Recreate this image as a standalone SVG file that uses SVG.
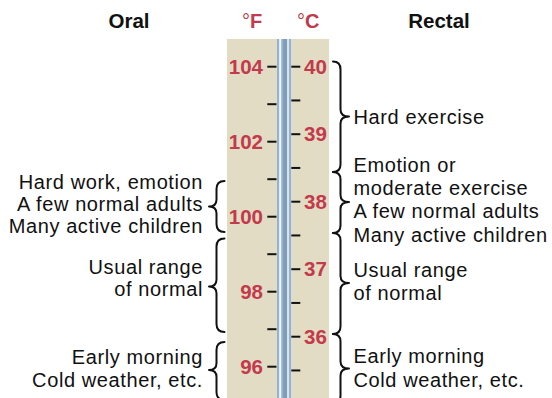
<svg xmlns="http://www.w3.org/2000/svg" width="552" height="398" viewBox="0 0 552 398">
  <style>
    .t { font-family: "Liberation Sans", Arial, sans-serif; font-size: 20px; fill: #111; letter-spacing: 0.6px; }
    .l { text-anchor: end; }
    .h { font-family: "Liberation Sans", Arial, sans-serif; font-size: 20.5px; font-weight: bold; fill: #111; text-anchor: middle; }
    .n { font-family: "Liberation Sans", Arial, sans-serif; font-size: 20.5px; font-weight: bold; fill: #c23a4b; }
    .u { font-family: "Liberation Sans", Arial, sans-serif; font-size: 20px; font-weight: bold; fill: #c23a4b; }
    .deg { font-weight: normal; }
    .tick { stroke: #111; stroke-width: 2; }
    .brace { fill: none; stroke: #111; stroke-width: 2; stroke-linejoin: round; stroke-linecap: round; }
  </style>
  <rect width="552" height="398" fill="#ffffff"/>

  <g id="headers">
    <text class="h" x="129" y="28">Oral</text>
    <text class="h" x="439" y="28">Rectal</text>
    <text class="u" x="242" y="28"><tspan class="deg">°</tspan>F</text>
    <text class="u" x="297" y="28"><tspan class="deg">°</tspan>C</text>
  </g>

  <g id="thermometer">
    <rect x="227" y="39" width="102" height="359" fill="#e3dcc4"/>
    <rect x="277" y="39" width="2.3" height="359" fill="#8fb4d8"/>
    <rect x="279.3" y="39" width="2" height="359" fill="#f4f6f8"/>
    <rect x="281.3" y="39" width="1.8" height="359" fill="#8fb4d8"/>
    <rect x="283.1" y="39" width="4.3" height="359" fill="#7f9cb8"/>
    <rect x="287.4" y="39" width="1.4" height="359" fill="#f4f6f8"/>
    <rect x="288.8" y="39" width="2.2" height="359" fill="#8fb4d8"/>
    <g id="f-ticks">
      <line class="tick" x1="267.3" y1="66.7" x2="276.5" y2="66.7"/>
      <line class="tick" x1="267.3" y1="104.2" x2="276.5" y2="104.2"/>
      <line class="tick" x1="267.3" y1="141.7" x2="276.5" y2="141.7"/>
      <line class="tick" x1="267.3" y1="179.2" x2="276.5" y2="179.2"/>
      <line class="tick" x1="267.3" y1="216.7" x2="276.5" y2="216.7"/>
      <line class="tick" x1="267.3" y1="254.2" x2="276.5" y2="254.2"/>
      <line class="tick" x1="267.3" y1="291.7" x2="276.5" y2="291.7"/>
      <line class="tick" x1="267.3" y1="329.2" x2="276.5" y2="329.2"/>
      <line class="tick" x1="267.3" y1="366.7" x2="276.5" y2="366.7"/>
    </g>
    <g id="c-ticks">
      <line class="tick" x1="291.3" y1="66.7" x2="300.3" y2="66.7"/>
      <line class="tick" x1="291.3" y1="100.45" x2="300.3" y2="100.45"/>
      <line class="tick" x1="291.3" y1="134.2" x2="300.3" y2="134.2"/>
      <line class="tick" x1="291.3" y1="167.95" x2="300.3" y2="167.95"/>
      <line class="tick" x1="291.3" y1="201.7" x2="300.3" y2="201.7"/>
      <line class="tick" x1="291.3" y1="235.45" x2="300.3" y2="235.45"/>
      <line class="tick" x1="291.3" y1="269.2" x2="300.3" y2="269.2"/>
      <line class="tick" x1="291.3" y1="302.95" x2="300.3" y2="302.95"/>
      <line class="tick" x1="291.3" y1="336.7" x2="300.3" y2="336.7"/>
      <line class="tick" x1="291.3" y1="370.45" x2="300.3" y2="370.45"/>
    </g>
    <g id="f-labels">
      <text class="n l" x="263" y="73.7">104</text>
      <text class="n l" x="263" y="148.7">102</text>
      <text class="n l" x="263" y="223.7">100</text>
      <text class="n l" x="263" y="298.7">98</text>
      <text class="n l" x="263" y="373.7">96</text>
    </g>
    <g id="c-labels">
      <text class="n" x="304" y="73.7">40</text>
      <text class="n" x="304" y="141.2">39</text>
      <text class="n" x="304" y="208.7">38</text>
      <text class="n" x="304" y="276.2">37</text>
      <text class="n" x="304" y="343.7">36</text>
    </g>
  </g>

  <g id="connectors">
    <path class="brace" d="M224.5,181 Q216.5,181 216.5,189 L216.5,199.5 Q216.5,206.5 209,206.5 Q216.5,206.5 216.5,213.5 L216.5,224 Q216.5,232 224.5,232"/>
    <path class="brace" d="M224.5,238.5 Q216.5,238.5 216.5,246.5 L216.5,279.5 Q216.5,286.5 209,286.5 Q216.5,286.5 216.5,293.5 L216.5,324 Q216.5,332 224.5,332"/>
    <path class="brace" d="M224.5,342 Q216.5,342 216.5,350 L216.5,363 Q216.5,370 209,370 Q216.5,370 216.5,377 L216.5,392 Q216.5,400 224.5,400"/>
    <path class="brace" d="M333,61.5 Q340.5,61.5 340.5,69.5 L340.5,109.5 Q340.5,116.5 349,116.5 Q340.5,116.5 340.5,123.5 L340.5,164.5 Q340.5,172 333,172"/>
    <path class="brace" d="M333,172 Q340.5,172 340.5,179.5 L340.5,195 Q340.5,202 349,202 Q340.5,202 340.5,209 L340.5,225.5 Q340.5,233 333,233"/>
    <path class="brace" d="M333,233 Q340.5,233 340.5,240.5 L340.5,276 Q340.5,283 349,283 Q340.5,283 340.5,290 L340.5,326.5 Q340.5,334 333,334"/>
    <path class="brace" d="M333,334 Q340.5,334 340.5,341.5 L340.5,361.5 Q340.5,368.5 349,368.5 Q340.5,368.5 340.5,375.5 L340.5,395.5 Q340.5,403 333,403"/>
  </g>

  <g id="oral-hard-work">
    <text class="t l" x="203" y="188.5">Hard work, emotion</text>
    <text class="t l" x="203" y="210.5">A few normal adults</text>
    <text class="t l" x="203" y="232.5">Many active children</text>
  </g>
  <g id="oral-usual-range">
    <text class="t l" x="203" y="273.5">Usual range</text>
    <text class="t l" x="203" y="295.5">of normal</text>
  </g>
  <g id="oral-early-morning">
    <text class="t l" x="203" y="363.5">Early morning</text>
    <text class="t l" x="203" y="386.5">Cold weather, etc.</text>
  </g>

  <g id="rectal-hard-exercise">
    <text class="t" x="353.5" y="123.5">Hard exercise</text>
  </g>
  <g id="rectal-emotion">
    <text class="t" x="353.5" y="171.7">Emotion or</text>
    <text class="t" x="353.5" y="195">moderate exercise</text>
    <text class="t" x="353.5" y="218.3">A few normal adults</text>
    <text class="t" x="353.5" y="241.7">Many active children</text>
  </g>
  <g id="rectal-usual-range">
    <text class="t" x="353.5" y="276.7">Usual range</text>
    <text class="t" x="353.5" y="300">of normal</text>
  </g>
  <g id="rectal-early-morning">
    <text class="t" x="353.5" y="363.3">Early morning</text>
    <text class="t" x="353.5" y="386.7">Cold weather, etc.</text>
  </g>
</svg>
